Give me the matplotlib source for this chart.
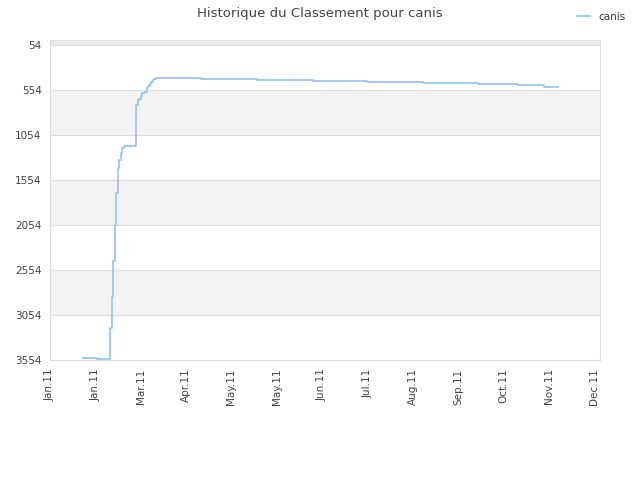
import numpy as np
import matplotlib
matplotlib.use('Agg')
import matplotlib.pyplot as plt
import matplotlib.dates as mdates
from datetime import date, timedelta

plt.rcParams['font.family'] = ['DejaVu Sans']

# jour (depuis le 1er janvier 2011) et classement
jours = [22, 31, 40, 41, 42, 43, 44, 45, 46, 47, 48, 49, 50, 57, 58, 59, 60,
         61, 63, 64, 65, 66, 67, 68, 69, 70, 100, 137, 174, 210, 247, 283,
         310, 327, 336]
classement = [3530, 3545, 3200, 2850, 2450, 2050, 1700, 1420, 1330, 1250,
              1200, 1176, 1176, 720, 665, 650, 620, 590, 576, 532, 510, 487,
              465, 448, 437, 426, 437, 448, 460, 471, 482, 493, 504, 518, 518]

yticks = [54, 554, 1054, 1554, 2054, 2554, 3054, 3554]
xlabels = ['Jan.11', 'Jan.11', 'Mar.11', 'Apr.11', 'May.11', 'May.11',
           'Jun.11', 'Jul.11', 'Aug.11', 'Sep.11', 'Oct.11', 'Nov.11', 'Dec.11']

debut = date(2011, 1, 1)
dates = [debut + timedelta(days=j) for j in jours]
xticks = [debut + timedelta(days=30 * i) for i in range(len(xlabels))]

fig = plt.figure(figsize=(6.4, 4.8), dpi=100)
ax = fig.add_axes([0.078, 0.25, 0.8595, 0.6667])

# bandes grises
ax.axhspan(0, 54, color='#ececec', zorder=0, lw=0)
for b in [554, 1554, 2554]:
    ax.axhspan(b, b + 500, color='#f3f3f3', zorder=0, lw=0)
for t in yticks:
    ax.axhline(t, color='#dddddd', lw=0.8, zorder=1)

ax.plot(dates, classement, drawstyle='steps-post', color='#99c7f4', lw=1.3,
        label='canis', zorder=3)

ax.set_ylim(3554, 0)
ax.set_yticks(yticks)
ax.set_yticklabels([str(t) for t in yticks])
ax.set_xlim(debut, debut + timedelta(days=364.6))
ax.set_xticks(xticks)
ax.set_xticklabels(xlabels, rotation=90)
ax.tick_params(length=0, labelsize=7.5, colors='#444444', pad=6)

for s in ax.spines.values():
    s.set_color('#dddddd')

fig.suptitle('Historique du Classement pour canis', x=0.5, y=0.985,
             fontsize=9.5, color='#444444')
fig.legend(loc='upper right', bbox_to_anchor=(0.992, 0.995), frameon=False,
           fontsize=7.5, handlelength=1.2, labelcolor='#333333')

fig.savefig('out.png', dpi=100)
